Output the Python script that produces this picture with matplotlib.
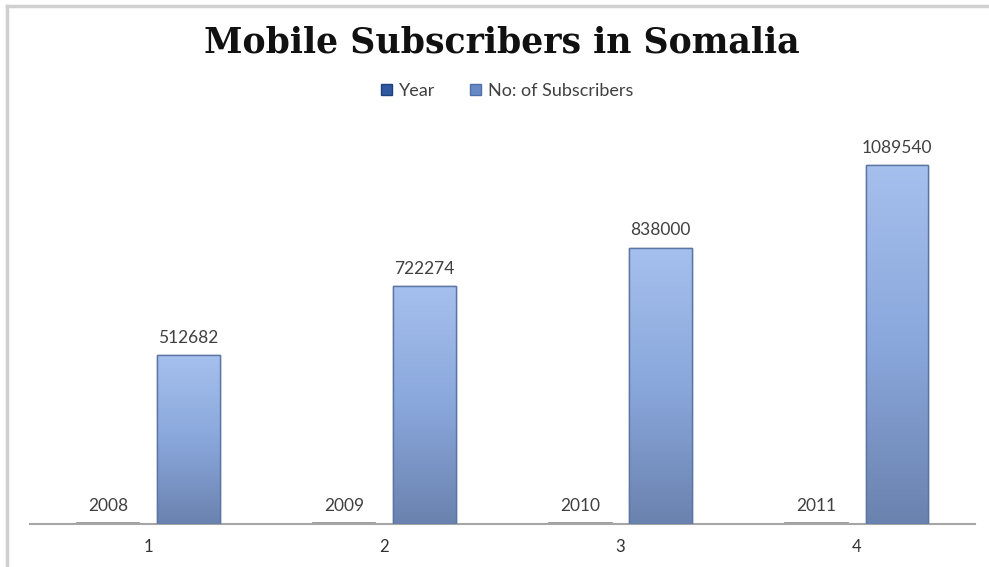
import matplotlib
matplotlib.use('Agg')
import matplotlib.pyplot as plt
import numpy as np
from matplotlib.colors import LinearSegmentedColormap
from matplotlib.lines import Line2D
from matplotlib.patches import Patch

categories = [1, 2, 3, 4]
years = [2008, 2009, 2010, 2011]
subscribers = [512682, 722274, 838000, 1089540]

plt.rcParams['font.family'] = ['Lato', 'DejaVu Sans']

fig = plt.figure(figsize=(9.89, 5.67), dpi=100)
ax = fig.add_axes([0.0303, 0.0758, 0.9555, 0.6966])

x = np.array(categories, dtype=float)
width = 0.265
offset = 0.17

year_bars = ax.bar(x - offset, years, width, color='#4f6ea6',
                   edgecolor='#8c8c8c', linewidth=1.2, zorder=2)
sub_bars = ax.bar(x + offset, subscribers, width, color='#7f9ed4',
                  edgecolor='#5d75a3', linewidth=1.0, zorder=2)

# vertical gradient on the subscriber bars (light at top, darker at the base)
cmap = LinearSegmentedColormap.from_list('blue', ['#a5c0ed', '#8aa7dc', '#6a82ae'])
grad = np.linspace(0, 1, 256).reshape(-1, 1)
for b in sub_bars:
    x0, y0 = b.get_x(), b.get_y()
    im = ax.imshow(grad, cmap=cmap, aspect='auto', zorder=3,
                   extent=[x0, x0 + b.get_width(), y0, y0 + b.get_height()],
                   origin='upper')
    im.set_clip_path(b)
    ax.add_patch(plt.Rectangle((x0, y0), b.get_width(), b.get_height(),
                               fill=False, edgecolor='#5d75a3', linewidth=1.0, zorder=4))

for b, v in zip(year_bars, years):
    ax.annotate(str(v), (b.get_x() + b.get_width() / 2, v), xytext=(0, 7),
                textcoords='offset points', ha='center', va='bottom',
                fontsize=12.5, color='#404040')
for b, v in zip(sub_bars, subscribers):
    ax.annotate(str(v), (b.get_x() + b.get_width() / 2, v), xytext=(0, 7),
                textcoords='offset points', ha='center', va='bottom',
                fontsize=12.5, color='#404040')

ax.set_xlim(0.5, 4.5)
ax.set_ylim(0, 1200000)
ax.set_xticks(categories)
ax.set_xticklabels([str(c) for c in categories], fontsize=12, color='#333333')
ax.tick_params(axis='x', length=0, pad=11)
ax.set_yticks([])
for s in ['top', 'right', 'left']:
    ax.spines[s].set_visible(False)
ax.spines['bottom'].set_color('#a6a6a6')
ax.spines['bottom'].set_linewidth(1.5)

fig.text(0.507, 0.925, 'Mobile Subscribers in Somalia', ha='center', va='center',
         fontsize=25, fontweight='bold', family='DejaVu Serif', color='#111111')

handles = [Patch(facecolor='#2f58a0', edgecolor='#1f3f7a'),
           Patch(facecolor='#6689c6', edgecolor='#4f6ea6')]
fig.legend(handles, ['Year', 'No: of Subscribers'], loc='center',
           bbox_to_anchor=(0.513, 0.84), ncol=2, frameon=False, fontsize=13,
           handlelength=0.6, handleheight=0.6, handletextpad=0.4,
           columnspacing=1.9, labelcolor='#404040')

# outer frame (left and top edges visible)
fig.add_artist(Line2D([7 / 989, 7 / 989], [0, 1 - 6 / 567], color='#d0d0d0', lw=2.5))
fig.add_artist(Line2D([7 / 989, 1], [1 - 6 / 567, 1 - 6 / 567], color='#d0d0d0', lw=2.5))

fig.savefig('out.png', dpi=100)
